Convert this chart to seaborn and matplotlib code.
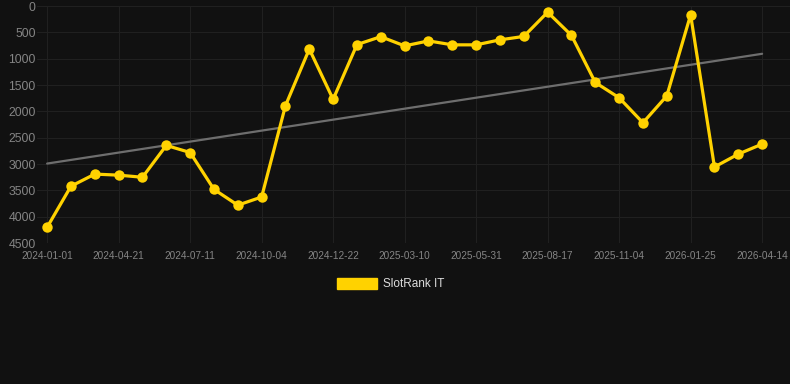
import numpy as np
import pandas as pd
import seaborn as sns
import matplotlib.pyplot as plt
from matplotlib.patches import Patch

# rank values, one point every ~4 weeks (equally spaced on the axis)
ranks = [4200, 3420, 3190, 3210, 3250, 2645, 2780, 3480, 3780, 3625,
         1890, 815, 1770, 730, 580, 755, 660, 735, 735, 640,
         575, 115, 555, 1450, 1740, 2215, 1705, 165, 3055, 2810, 2620]
tick_labels = ['2024-01-01', '2024-04-21', '2024-07-11', '2024-10-04',
               '2024-12-22', '2025-03-10', '2025-05-31', '2025-08-17',
               '2025-11-04', '2026-01-25', '2026-04-14']
trend_ends = [2990, 905]

bg = '#111111'
yellow = '#FFD200'

sns.set_style('dark')
plt.rcParams['font.family'] = ['Liberation Sans', 'DejaVu Sans']

df = pd.DataFrame({'idx': np.arange(len(ranks)), 'rank': ranks})
trend = pd.DataFrame({'idx': [0, len(ranks) - 1], 'rank': trend_ends})

fig = plt.figure(figsize=(7.9, 3.84), dpi=100, facecolor=bg)
ax = fig.add_axes([0.047, 0.367, 0.953, 0.617])
ax.set_facecolor(bg)

sns.lineplot(data=trend, x='idx', y='rank', color='#6e6e6e', linewidth=1.6, ax=ax)
sns.lineplot(data=df, x='idx', y='rank', color=yellow, linewidth=2.3,
             marker='o', markersize=7.5, markeredgewidth=0, ax=ax)

ax.set_ylim(4500, 0)
ax.set_xlim(-0.42, len(ranks) - 1 + 1.17)
ax.set_yticks(range(0, 4501, 500))
ax.set_xticks(range(0, len(ranks), 3))
ax.set_xticklabels(tick_labels)
ax.tick_params(axis='y', labelsize=8.8, colors='#858585', length=0, pad=1, left=False)
ax.tick_params(axis='x', labelsize=7.2, colors='#858585', length=0, pad=6, bottom=False)
ax.grid(True, color='#202020', linewidth=0.8)
ax.set_xlabel('')
ax.set_ylabel('')
for s in ax.spines.values():
    s.set_visible(False)

handles = [Patch(facecolor=yellow, edgecolor=yellow)]
fig.legend(handles, ['SlotRank IT'], loc='center', bbox_to_anchor=(0.495, 0.26),
           frameon=False, fontsize=8.5, labelcolor='#dddddd',
           handlelength=3.4, handleheight=1.0, handletextpad=0.5)

plt.savefig('out.png', dpi=100, facecolor=bg)
